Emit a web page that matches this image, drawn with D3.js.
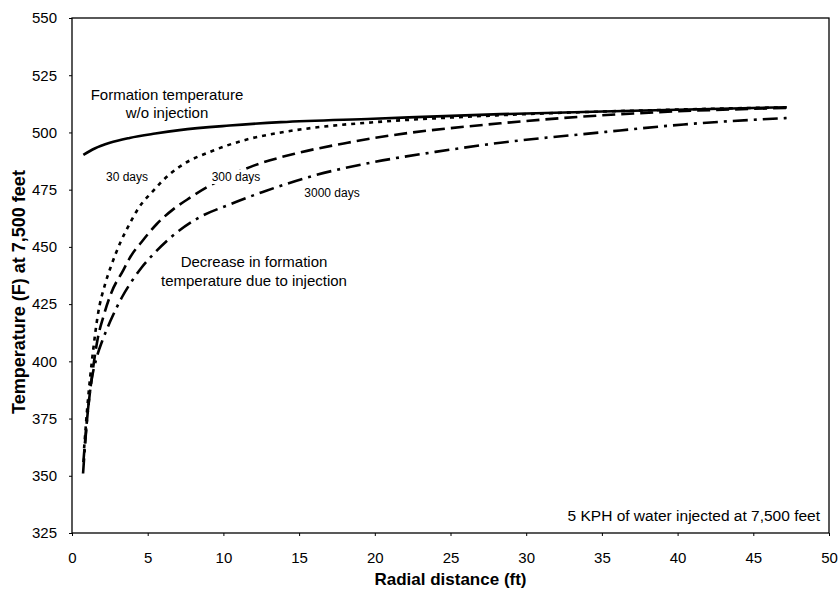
<!DOCTYPE html>
<html>
<head>
<meta charset="utf-8">
<script src="https://cdn.jsdelivr.net/npm/d3@7"></script>
<style>
  body { margin: 0; background: #fff; }
  text { font-family: Arial, 'Liberation Sans', sans-serif; fill: #000; }
  .axis path, .axis line { stroke: #000; }
  .axis text { font-size: 15px; }
</style>
</head>
<body>
<svg id="chart" width="840" height="595"></svg>
<script>
// x ticks / y ticks
const xTicks = [0, 5, 10, 15, 20, 25, 30, 35, 40, 45, 50]
const yTicks = [325, 350, 375, 400, 425, 450, 475, 500, 525, 550]

// formation temperature without injection (solid)
const formationX = [0.75, 1.5, 2.5, 3.8, 5.5, 7.1, 10.4, 13.8, 19.9, 28.3, 37.1, 47.2]
const formationT = [490.2, 493.0, 495.5, 497.6, 499.5, 501.0, 503.0, 504.5, 506.0, 508.0, 509.5, 511.0]

// 30 days (dotted)
const days30X = [0.8, 1.0, 1.4, 1.7, 2.2, 2.6, 3.2, 3.8, 4.4, 5.3, 6.0, 7.1, 9.3, 11.6, 13.8, 15.9, 20, 25, 30, 40, 47.2]
const days30T = [362, 379, 405, 420, 434, 442, 452, 460, 467, 474, 479, 485, 492, 497, 500, 502, 504.5, 506.5, 508, 510, 511]

// 300 days (dashed)
const days300X = [0.75, 1.0, 1.5, 1.7, 2.05, 2.6, 3.4, 3.8, 4.7, 5.6, 6.7, 7.8, 8.9, 12, 14.9, 18.2, 19.9, 28.3, 37.1, 47.2]
const days300T = [356, 375, 402, 410, 419, 430, 440, 445, 453, 460, 466.5, 471.5, 476, 485.5, 491, 495.5, 497.5, 504, 508.3, 510.7]

// 3000 days (dash-dot)
const days3000X = [0.73, 1.0, 1.3, 1.6, 2.0, 2.3, 2.7, 3.3, 4.0, 4.6, 5.4, 6.5, 8.3, 10.4, 12.6, 15.9, 19.9, 24, 28.3, 34.9, 40.4, 47.2]
const days3000T = [351, 375, 392, 401, 409, 414, 420, 428, 435.5, 441, 447, 454, 462.5, 468.5, 474, 481, 487, 491.5, 495.5, 500, 503.5, 506.3]

const margin = { left: 72, right: 11, top: 18, bottom: 62 }
const width = 840 - margin.left - margin.right
const height = 595 - margin.top - margin.bottom

const svg = d3.select('#chart')
const g = svg.append('g')
  .attr('transform', 'translate(' + margin.left + ',' + margin.top + ')')

const x = d3.scaleLinear().domain([0, 50]).range([0, width])
const y = d3.scaleLinear().domain([325, 550]).range([height, 0])

// frame
g.append('rect')
  .attr('width', width)
  .attr('height', height)
  .attr('fill', 'none')
  .attr('stroke', '#000')
  .attr('stroke-width', 1.3)

g.append('g')
  .attr('class', 'x axis')
  .attr('transform', 'translate(0,' + height + ')')
  .call(d3.axisBottom(x).tickValues(xTicks).tickSize(3).tickPadding(16))
  .call(a => a.select('.domain').remove())

g.append('g')
  .attr('class', 'y axis')
  .call(d3.axisLeft(y).tickValues(yTicks).tickSize(3).tickPadding(12))
  .call(a => a.select('.domain').remove())

// axis titles
g.append('text')
  .text('Radial distance (ft)')
  .attr('x', width / 2)
  .attr('y', height + 52)
  .attr('text-anchor', 'middle')
  .style('font-size', '17px')
  .style('font-weight', 'bold')

g.append('text')
  .text('Temperature (F) at 7,500 feet')
  .attr('transform', 'translate(' + (-47) + ',' + (274) + ') rotate(-90)')
  .attr('text-anchor', 'middle')
  .style('font-size', '18px')
  .style('font-weight', 'bold')

const line = d3.line()
  .x(d => x(d[0]))
  .y(d => y(d[1]))
  .curve(d3.curveMonotoneX)

const series = [
  { xs: formationX, ts: formationT, dash: null },
  { xs: days30X, ts: days30T, dash: '4,5' },
  { xs: days300X, ts: days300T, dash: '13,6' },
  { xs: days3000X, ts: days3000T, dash: '15,6,3,6' }
]

series.forEach(s => {
  g.append('path')
    .datum(d3.zip(s.xs, s.ts))
    .attr('d', line)
    .attr('fill', 'none')
    .attr('stroke', '#000')
    .attr('stroke-width', 2.6)
    .attr('stroke-dasharray', s.dash)
})

// annotations (white box behind, like the original data labels)
function label (txt, px, py, size, boxed) {
  const t = svg.append('text')
    .text(txt)
    .attr('x', px)
    .attr('y', py)
    .attr('text-anchor', 'middle')
    .style('font-size', size + 'px')
  if (boxed) {
    const b = t.node().getBBox()
    svg.insert('rect', () => t.node())
      .attr('x', b.x - 2)
      .attr('y', b.y)
      .attr('width', b.width + 4)
      .attr('height', b.height)
      .attr('fill', '#fff')
  }
}
label('Formation temperature', 167, 100, 15)
label('w/o injection', 167, 118, 15)
label('30 days', 127, 181, 12)
label('300 days', 236, 181, 12, true)
label('3000 days', 332, 197, 12)
label('Decrease in formation', 254, 267, 15)
label('temperature due to injection', 254, 286, 15)

svg.append('text')
  .text('5 KPH of water injected at 7,500 feet')
  .attr('x', 820)
  .attr('y', 521)
  .attr('text-anchor', 'end')
  .style('font-size', '15.5px')
</script>
</body>
</html>
